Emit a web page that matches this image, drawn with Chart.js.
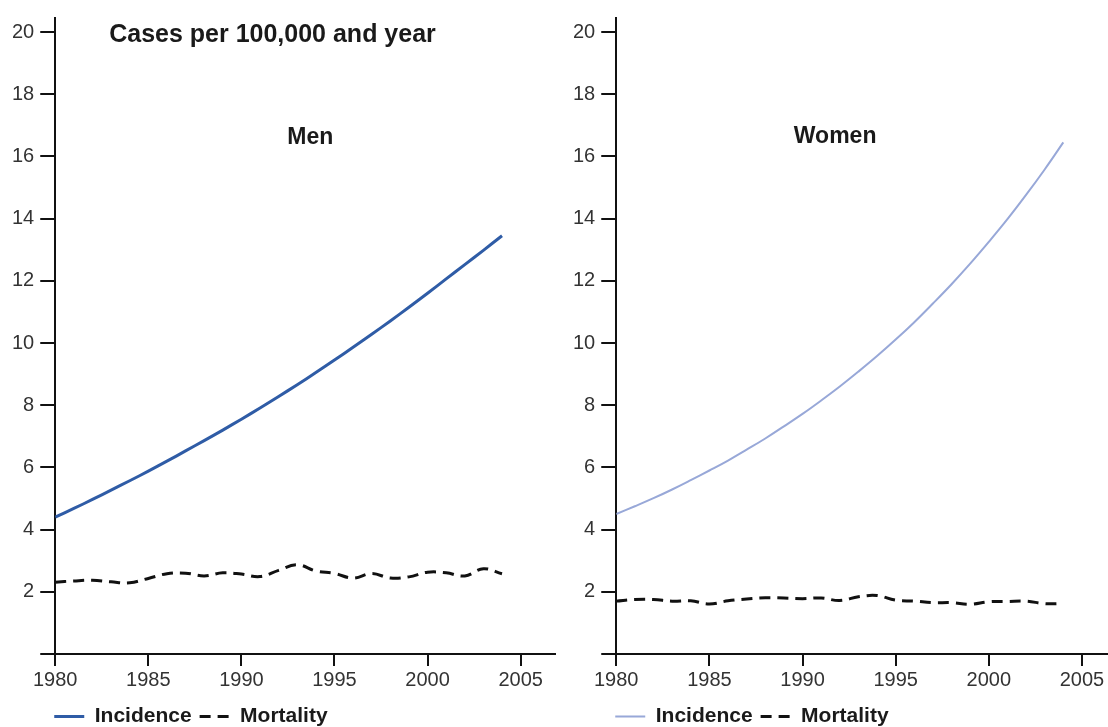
<!DOCTYPE html>
<html>
<head>
<meta charset="utf-8">
<script src="https://cdn.jsdelivr.net/npm/chart.js@4.4.0/dist/chart.umd.min.js"></script>
<style>
html,body{margin:0;padding:0;background:#fff;}
#wrap{position:relative;width:1108px;height:727px;}
#menBox{position:absolute;left:0;top:0;width:556px;height:727px;}
#womenBox{position:absolute;left:556px;top:0;width:552px;height:727px;}
</style>
</head>
<body>
<div id="wrap">
<div id="menBox"><canvas id="menChart"></canvas></div>
<div id="womenBox"><canvas id="womenChart"></canvas></div>
</div>
<script>
// data
const years = [1980,1981,1982,1983,1984,1985,1986,1987,1988,1989,1990,1991,1992,1993,1994,1995,1996,1997,1998,1999,2000,2001,2002,2003,2004];
const menIncidence = [4.40,4.68,4.97,5.27,5.57,5.88,6.20,6.53,6.86,7.20,7.55,7.91,8.28,8.66,9.05,9.45,9.86,10.28,10.71,11.15,11.60,12.06,12.52,12.98,13.45];
const menMortality = [2.31,2.35,2.37,2.32,2.29,2.43,2.58,2.60,2.51,2.61,2.57,2.49,2.69,2.87,2.67,2.59,2.44,2.59,2.44,2.48,2.63,2.61,2.51,2.74,2.58];
const womenIncidence = [4.50,4.75,5.01,5.29,5.59,5.90,6.22,6.57,6.93,7.32,7.72,8.15,8.60,9.08,9.58,10.11,10.67,11.27,11.89,12.55,13.25,13.98,14.76,15.58,16.45];
const womenMortality = [1.70,1.75,1.75,1.70,1.71,1.61,1.71,1.77,1.81,1.80,1.78,1.80,1.72,1.84,1.88,1.73,1.70,1.65,1.65,1.60,1.68,1.69,1.70,1.62,1.62];
const xTicks = [1980,1985,1990,1995,2000,2005];
const yTicks = [0,2,4,6,8,10,12,14,16,18,20];

const FONT = "'Liberation Sans', Arial, sans-serif";
Chart.defaults.font.family = FONT;

// text placed inside the plot at data coordinates
const panelText = {
  id:'panelText',
  afterDraw(chart, args, opts){
    const ctx = chart.ctx;
    const x = chart.scales.x, y = chart.scales.y;
    ctx.save();
    ctx.fillStyle = '#1a1a1a';
    ctx.textAlign = 'center';
    ctx.textBaseline = 'middle';
    (opts.items || []).forEach(it => {
      ctx.font = it.font;
      ctx.fillText(it.text, x.getPixelForValue(it.x), y.getPixelForValue(it.y));
    });
    ctx.restore();
  }
};

// nudge the legend box after layout
const legendShift = {
  id:'legendShift',
  afterLayout(chart, args, opts){
    const l = chart.legend;
    if(!l) return;
    l.left += opts.dx; l.right += opts.dx;
    l.top += opts.dy; l.bottom += opts.dy;
  }
};

function points(vals){
  return years.map((yr, i) => ({x: yr, y: vals[i]}));
}

function makeChart(id, incidence, mortality, incColor, incWidth, notes, padLeft, xMax){
  return new Chart(document.getElementById(id), {
    type:'line',
    data:{
      datasets:[{
        label:'Incidence',
        data:points(incidence),
        borderColor:incColor,
        borderWidth:incWidth,
        pointRadius:0,
        tension:0.4,
        fill:false
      },{
        label:'Mortality',
        data:points(mortality),
        borderColor:'#111',
        borderWidth:3,
        borderDash:[11,7],
        pointRadius:0,
        tension:0.4,
        fill:false
      }]
    },
    options:{
      responsive:true,
      maintainAspectRatio:false,
      animation:false,
      layout:{padding:{left:padLeft, right:0, top:16, bottom:0}},
      plugins:{
        legend:{
          position:'bottom',
          align:'start',
          fullSize:false,
          labels:{
            usePointStyle:true,
            pointStyle:'line',
            pointStyleWidth:30,
            padding:8,
            color:'#1a1a1a',
            font:{size:21, weight:'bold'},
            generateLabels: chart => {
              const items = Chart.defaults.plugins.legend.labels.generateLabels(chart);
              items.forEach(it => {
                const ds = chart.data.datasets[it.datasetIndex];
                it.lineDash = ds.borderDash || [];
                it.lineWidth = ds.borderWidth;
                it.strokeStyle = ds.borderColor;
              });
              return items;
            }
          }
        },
        tooltip:{enabled:false},
        panelText:{items:notes},
        legendShift:{dx:-9, dy:10}
      },
      scales:{
        x:{
          type:'linear',
          min:1980,
          max:xMax,
          afterBuildTicks: ax => { ax.ticks = xTicks.map(v => ({value:v})); },
          afterFit: ax => { ax.height -= 6; },
          grid:{drawOnChartArea:false, drawTicks:true, tickLength:12, color:'#111', lineWidth:2},
          border:{color:'#111', width:2},
          ticks:{color:'#333', font:{size:20}, padding:2, maxRotation:0, callback: v => String(v)}
        },
        y:{
          min:0,
          max:20.45,
          afterBuildTicks: ax => { ax.ticks = yTicks.map(v => ({value:v})); },
          grid:{drawOnChartArea:false, drawTicks:true, tickLength:15, color:'#111', lineWidth:2},
          border:{color:'#111', width:2},
          ticks:{color:'#333', font:{size:20}, padding:6, callback: v => (v === 0 ? '' : String(v))}
        }
      }
    },
    plugins:[panelText, legendShift]
  });
}

makeChart('menChart', menIncidence, menMortality, '#2f5ca6', 3,
  [{text:'Cases per 100,000 and year', x:1991.67, y:19.9, font:"bold 25px " + FONT},
   {text:'Men', x:1993.7, y:16.6, font:"bold 23px " + FONT}],
  6, 2006.9);

makeChart('womenChart', womenIncidence, womenMortality, '#98a8d8', 2,
  [{text:'Women', x:1991.75, y:16.65, font:"bold 23px " + FONT}],
  11, 2006.4);
</script>
</body>
</html>
